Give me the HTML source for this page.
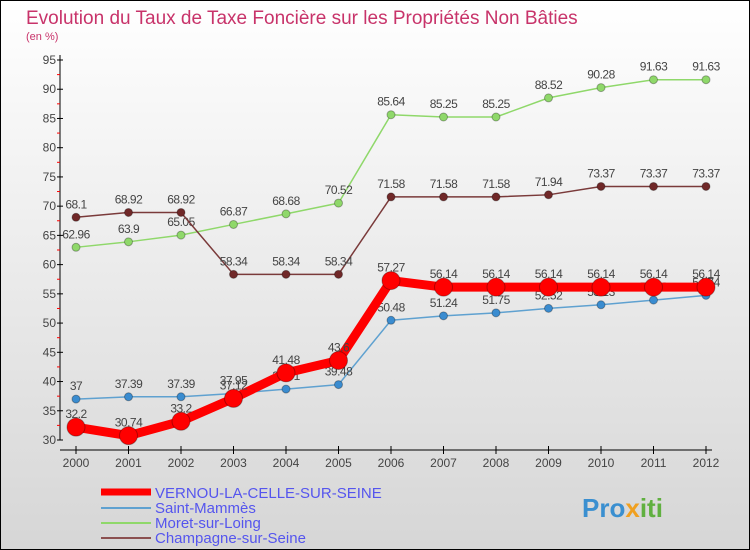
<!DOCTYPE html>
<html><head><meta charset="utf-8"><style>
body{margin:0}
#c{width:750px;height:550px;position:relative;overflow:hidden;font-family:"Liberation Sans",sans-serif}
</style></head><body>
<div id="c">
<svg id="s" width="750" height="550" xmlns="http://www.w3.org/2000/svg">
<defs><linearGradient id="bg" x1="0" y1="0" x2="0" y2="1"><stop offset="0" stop-color="#ffffff"/><stop offset="1" stop-color="#d6d6d6"/></linearGradient></defs>
<rect x="0.5" y="0.5" width="749" height="549" fill="url(#bg)" stroke="#000"/>
<text x="26" y="24" font-size="19" fill="#c8336a">Evolution du Taux de Taxe Foncière sur les Propriétés Non Bâties</text>
<text x="26" y="40" font-size="11" fill="#c8336a">(en %)</text>
<g id="axes"></g><g id="series"></g>
<g>
<line x1="101" y1="492" x2="151" y2="492" stroke="#f00" stroke-width="7"/>
<text x="155" y="498" font-size="15" fill="#5555ee">VERNOU-LA-CELLE-SUR-SEINE</text>
<line x1="101" y1="508" x2="151" y2="508" stroke="#5fa1d0" stroke-width="2"/>
<text x="155" y="513" font-size="15" fill="#5555ee">Saint-Mammès</text>
<line x1="101" y1="523" x2="151" y2="523" stroke="#8fd86a" stroke-width="2"/>
<text x="155" y="528" font-size="15" fill="#5555ee">Moret-sur-Loing</text>
<line x1="101" y1="538" x2="151" y2="538" stroke="#8b5050" stroke-width="2"/>
<text x="155" y="543" font-size="15" fill="#5555ee">Champagne-sur-Seine</text>
</g>
<text x="582" y="517" font-size="26" font-weight="bold" fill="#3a8fd0">Pro<tspan fill="#f0a020">x</tspan><tspan fill="#60b040">iti</tspan></text>
</svg></div>
<script>
const years=[2000,2001,2002,2003,2004,2005,2006,2007,2008,2009,2010,2011,2012];
const vernou=[32.2,30.74,33.2,37.12,41.48,43.6,57.27,56.14,56.14,56.14,56.14,56.14,56.14];
const saint=[37,37.39,37.39,37.95,38.71,39.48,50.48,51.24,51.75,52.52,53.13,53.93,54.74];
const moret=[62.96,63.9,65.05,66.87,68.68,70.52,85.64,85.25,85.25,88.52,90.28,91.63,91.63];
const champ=[68.1,68.92,68.92,58.34,58.34,58.34,71.58,71.58,71.58,71.94,73.37,73.37,73.37];
const yTicks=[30,35,40,45,50,55,60,65,70,75,80,85,90,95];
const NS="http://www.w3.org/2000/svg";
const X=v=>76+(v-2000)*52.5, Y=v=>440-(v-30)*(380/65);
function mk(t,a,p){const e=document.createElementNS(NS,t);for(const k in a)e.setAttribute(k,a[k]);p.appendChild(e);return e;}
const ax=document.getElementById('axes'),sr=document.getElementById('series');
let l=mk('line',{x1:60,y1:55,x2:60,y2:440,stroke:'#000'},ax);


l=mk('line',{x1:60,y1:450,x2:712,y2:450,stroke:'#000'},ax);


yTicks.forEach((v,i)=>{
  mk('line',{x1:57,y1:Y(v),x2:63,y2:Y(v),stroke:'#000'},ax);
  if(i<yTicks.length-1)mk('line',{x1:57,y1:Y(v+2.5),x2:60,y2:Y(v+2.5),stroke:'#f00'},ax);
  const t=mk('text',{x:56,y:Y(v)+4,'font-size':12,'text-anchor':'end',fill:'#444'},ax);t.textContent=v;
  
  
});
years.forEach(y=>{
  mk('line',{x1:X(y),y1:446,x2:X(y),y2:454,stroke:'#000'},ax);
  const t=mk('text',{x:X(y),y:467,'font-size':12,'text-anchor':'middle',fill:'#444'},ax);t.textContent=y;
  
  
});
function series(d,col,w,r,name,dot){
  const g=mk('g',{},sr);
  
  
  const p=mk('polyline',{points:d.map((v,i)=>X(years[i])+','+Y(v)).join(' '),fill:'none',stroke:col,'stroke-width':w,'stroke-linejoin':'round'},g);
  
  
  d.forEach((v,i)=>{
    const c=mk('circle',{cx:X(years[i]),cy:Y(v),r:r,fill:dot,stroke:'rgba(0,0,0,0.3)'},g);
    
    
    const t=mk('text',{x:X(years[i]),y:Y(v)-9,'font-size':12,'text-anchor':'middle',fill:'#444','letter-spacing':'-0.5'},g);t.textContent=v;
    
    
  });
}
series(moret,'#8fd86a',1.5,4,'moret','#8fd86a');
series(champ,'#7a3a3a',1.5,4,'champagne','#702828');
series(saint,'#5fa1d0',1.5,4,'saint-mammes','#3a8cd0');
series(vernou,'#f00',9,9,'vernou','#f00');
</script>
</body></html>
